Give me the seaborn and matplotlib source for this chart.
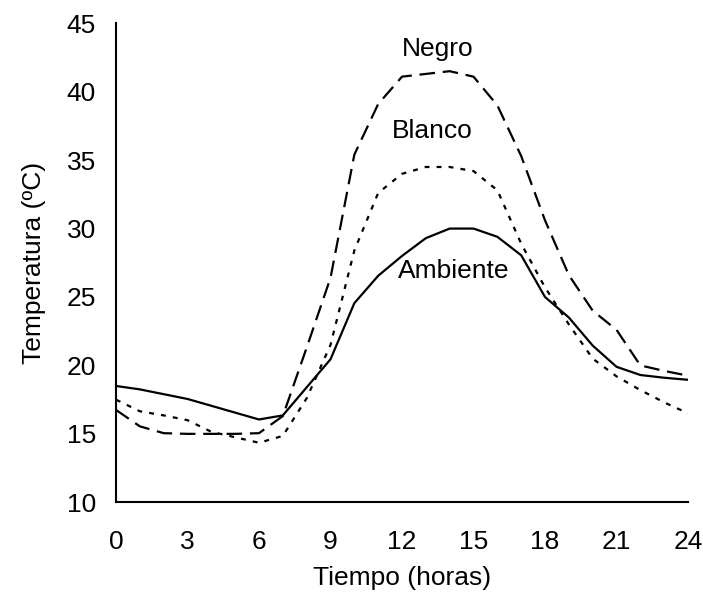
import matplotlib
matplotlib.use("Agg")
import matplotlib.pyplot as plt
import seaborn as sns
import pandas as pd

hours = list(range(25))
ambiente = [18.5, 18.25, 17.9, 17.55, 17.05, 16.55, 16.05, 16.35, 18.4, 20.45, 24.55, 26.55,
            28.0, 29.3, 30.0, 30.0, 29.4, 28.05, 25.0, 23.5, 21.45, 19.9, 19.3, 19.1, 18.95]
negro = [16.75, 15.55, 15.05, 15.0, 15.0, 15.0, 15.05, 16.3, 21.3, 26.4, 35.4, 39.1,
         41.1, 41.3, 41.5, 41.1, 39.0, 35.3, 30.6, 26.6, 24.0, 22.6, 20.0, 19.6, 19.25]
blanco = [17.5, 16.65, 16.35, 16.0, 15.15, 14.75, 14.35, 14.85, 17.6, 21.5, 28.4, 32.6,
          34.0, 34.5, 34.5, 34.2, 32.8, 28.9, 25.7, 23.0, 20.5, 19.2, 18.2, 17.3, 16.5]
series_names = ["Ambiente", "Negro", "Blanco"]
x_ticks = [0, 3, 6, 9, 12, 15, 18, 21, 24]
y_ticks = [10, 15, 20, 25, 30, 35, 40, 45]

df = pd.DataFrame({
    "hora": hours * 3,
    "temp": ambiente + negro + blanco,
    "serie": [series_names[0]] * 25 + [series_names[1]] * 25 + [series_names[2]] * 25,
})

sns.set_style("white")
plt.rcParams["font.family"] = ["Liberation Sans", "DejaVu Sans"]
plt.rcParams["text.color"] = "black"
plt.rcParams["axes.labelcolor"] = "black"

FS = 19

fig = plt.figure(figsize=(7.03, 5.94), dpi=100)
ax = fig.add_axes([0.165, 0.1544, 0.8137, 0.8064])

sns.lineplot(data=df, x="hora", y="temp", style="serie",
             dashes={"Ambiente": "", "Negro": (7, 3.5), "Blanco": (2.2, 3.2)},
             color="black", linewidth=1.6, legend=False, ax=ax)

ax.set_xlim(0, 24)
ax.set_ylim(10, 45)
ax.set_xticks(x_ticks)
ax.set_yticks(y_ticks)
ax.tick_params(axis="x", direction="in", length=6, width=1.5, pad=20, labelsize=FS,
               colors="black")
ax.tick_params(axis="y", direction="out", length=6, width=1.5, pad=8.5, labelsize=FS,
               colors="black")
for side in ["top", "right"]:
    ax.spines[side].set_visible(False)
for side in ["left", "bottom"]:
    ax.spines[side].set_linewidth(1.5)
    ax.spines[side].set_color("black")

ax.set_xlabel("Tiempo (horas)", fontsize=FS, labelpad=8.5, color="black")
ax.set_ylabel("Temperatura (ºC)", fontsize=FS, labelpad=15, color="black")

ax.text(13.5, 43.1, "Negro", fontsize=FS, ha="center", va="center", color="black")
ax.text(13.25, 37.1, "Blanco", fontsize=FS, ha="center", va="center", color="black")
ax.text(14.15, 26.9, "Ambiente", fontsize=FS, ha="center", va="center", color="black")

fig.savefig("out.png", dpi=100)
